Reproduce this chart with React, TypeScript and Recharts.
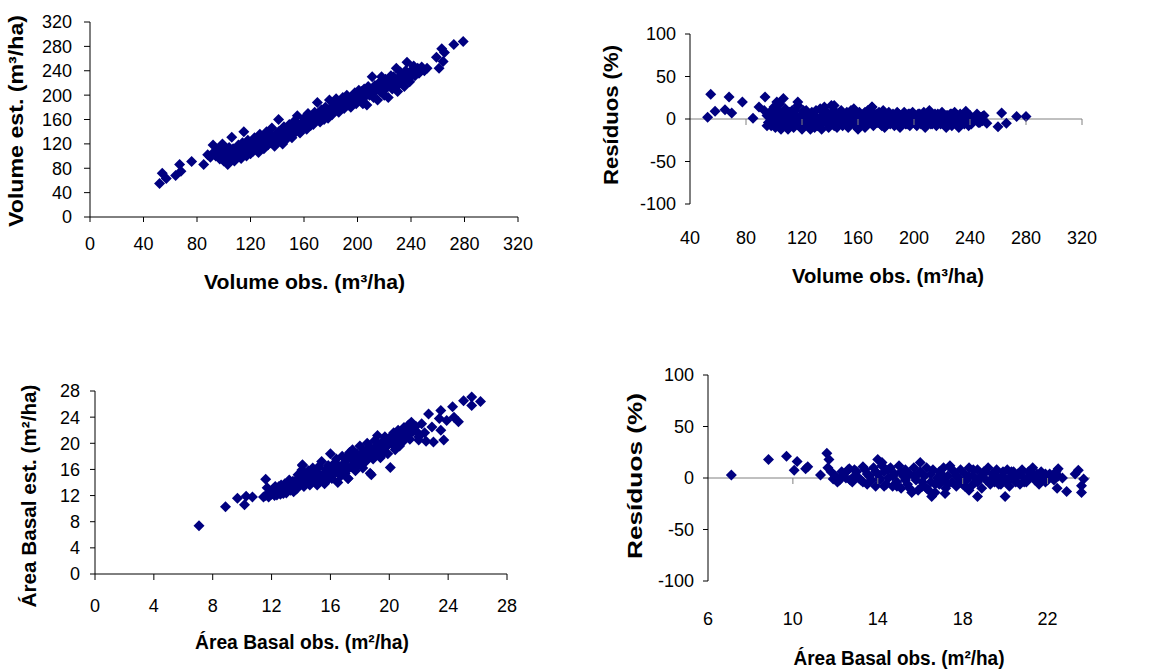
import { ScatterChart, Scatter, XAxis, YAxis, ReferenceLine } from "recharts";

const NAVY = "#000080";
const FONT = '"Liberation Sans", Arial, sans-serif';

// volume observed vs estimated (m³/ha)
const volumeFit: [number, number][] = [
  [52, 55], [54, 72], [57, 63], [64, 68], [67, 86], [68, 75], [76, 91], [85, 86], [88, 102], [92, 118], [95, 110],
  [90, 98], [92, 105], [94, 100], [96, 112], [97, 95], [98, 104], [99, 120], [100, 92], [101, 108], [102, 100],
  [103, 86], [104, 114], [105, 96], [106, 131], [107, 104], [108, 92], [109, 110], [110, 100], [111, 118], [112, 106],
  [113, 96], [114, 122], [115, 140], [116, 108], [117, 100], [118, 126], [119, 112], [120, 104], [121, 118], [122, 108],
  [123, 130], [124, 114], [125, 120], [126, 106], [127, 136], [128, 118], [129, 126], [130, 112], [131, 124], [132, 140],
  [133, 118], [134, 130], [135, 122], [136, 146], [137, 128], [138, 116], [139, 136], [140, 124], [141, 160], [142, 132],
  [143, 140], [144, 120], [145, 148], [146, 134], [147, 128], [148, 142], [149, 152], [150, 136], [151, 130], [152, 146],
  [153, 158], [154, 140], [155, 166], [156, 148], [157, 138], [158, 154], [159, 146], [160, 162], [161, 150], [162, 144],
  [163, 170], [164, 156], [165, 150], [166, 160], [167, 152], [168, 172], [169, 158], [170, 188], [171, 164], [172, 156],
  [173, 176], [174, 166], [175, 160], [176, 180], [177, 170], [178, 162], [179, 192], [180, 176], [181, 168], [182, 184],
  [183, 174], [184, 194], [185, 180], [186, 172], [187, 190], [188, 182], [189, 196], [190, 178], [191, 186], [192, 200],
  [193, 184], [194, 192], [195, 180], [196, 198], [197, 190], [198, 204], [199, 186], [200, 196], [201, 208], [202, 192],
  [203, 200], [204, 186], [205, 210], [206, 198], [207, 184], [208, 214], [209, 200], [210, 206], [211, 230], [212, 196],
  [213, 216], [214, 208], [215, 192], [216, 220], [217, 206], [218, 230], [219, 212], [220, 200], [221, 226], [222, 214],
  [223, 196], [224, 220], [225, 232], [226, 210], [227, 224], [228, 216], [229, 244], [230, 206], [231, 228], [232, 238],
  [233, 220], [234, 230], [235, 214], [236, 240], [237, 254], [238, 226], [239, 222], [240, 236], [242, 248], [244, 240],
  [246, 236], [248, 246], [250, 240], [252, 244],
  [95, 104], [97, 100], [99, 108], [101, 96], [103, 110], [105, 104], [107, 112], [109, 98], [111, 110], [113, 104],
  [115, 114], [117, 110], [119, 120], [121, 110], [123, 122], [125, 114], [127, 126], [129, 118], [131, 130], [133, 124],
  [135, 134], [137, 122], [139, 130], [141, 140], [143, 130], [145, 138], [147, 144], [149, 136], [151, 146], [153, 140],
  [155, 152], [157, 146], [159, 156], [161, 158], [163, 152], [165, 162], [167, 164], [169, 168], [171, 170], [173, 166],
  [175, 172], [177, 176], [179, 170], [181, 180], [183, 182], [185, 186], [187, 178], [189, 186], [191, 192], [193, 194],
  [195, 190], [197, 196], [199, 200], [201, 196], [203, 206], [205, 200], [207, 204], [209, 208], [211, 202], [213, 210],
  [215, 214], [217, 218], [219, 222], [221, 210], [223, 220], [225, 218], [227, 230], [229, 222], [231, 218], [233, 234],
  [235, 226], [237, 236], [239, 230], [241, 242], [243, 232], [245, 244], [247, 240],
  [259, 262], [261, 244], [263, 276], [264, 255], [265, 270], [272, 283], [279, 288],
];

// volume residuals (%)
const volumeResid: [number, number][] = [
  [52.6, 2], [54.8, 29], [57.9, 9], [65, 11], [67.9, 26], [69.8, 7], [77.4, 20], [85, 1], [89.3, 14], [93.6, 26],
  [102, 20], [106.7, 24], [117, 20], [143, 16], [170, 14],
  [93, 10], [95, 4], [96, -4], [97, 8], [98, -8], [99, 0], [100, 14], [101, -10], [102, 4], [103, -4],
  [104, 18], [105, -12], [106, 6], [107, -6], [108, 12], [109, 0], [110, -12], [111, 8], [112, -4], [113, 2],
  [114, -10], [115, 10], [116, -2], [117, 16], [118, -8], [119, 4], [120, -12], [121, 6], [122, -4], [123, 10],
  [124, -8], [125, 2], [126, -12], [127, 8], [128, -2], [129, -10], [130, 10], [131, 0], [132, -6], [133, 12],
  [134, -12], [135, 4], [136, 14], [137, -4], [138, 8], [139, -10], [140, 2], [141, 16], [142, -6], [143, 10],
  [144, -2], [145, -10], [146, 6], [147, -4], [148, 10], [149, -8], [150, 2], [151, -6], [152, 8], [153, -10],
  [154, 0], [155, 6], [156, -4], [157, 12], [158, -8], [159, 2], [160, -12], [161, 8], [162, -2], [163, -6],
  [164, 6], [165, -10], [166, 2], [167, 10], [168, -4], [169, 4], [170, 14], [171, -8], [172, 0], [173, 6],
  [174, -4], [175, 8], [176, -6], [177, 2], [178, 10], [179, -10], [180, 4], [181, -2], [182, 8], [183, -6],
  [184, 0], [185, 6], [186, -8], [187, 2], [188, 8], [189, -4], [190, -10], [191, 4], [192, -2], [193, 8],
  [194, -6], [195, 0], [196, 6], [197, -8], [198, 2], [199, 8], [200, -4], [201, 4], [202, -8], [203, 0],
  [204, 6], [205, -6], [206, 2], [207, 8], [208, -10], [209, 0], [210, 4], [211, 10], [212, -6], [213, 2],
  [214, -2], [215, 6], [216, -8], [217, 0], [218, 4], [219, -4], [220, 8], [221, -6], [222, 2], [223, -10],
  [224, 4], [225, -2], [226, 6], [227, -8], [228, 0], [229, 8], [230, -4], [231, 2], [232, -10], [233, 6],
  [234, -2], [235, 4], [236, -6], [237, 9], [238, 0], [239, -8], [240, 4], [242, -2], [244, 2], [246, -4],
  [248, 2], [250, 4],
  [95, -8], [97, 2], [99, 6], [101, -2], [103, 10], [105, 0], [107, -8], [109, 6], [111, -2], [113, 10],
  [115, -6], [117, 2], [119, -4], [121, 10], [123, -2], [125, 6], [127, -6], [129, 4], [131, -8], [133, 2],
  [135, -4], [137, 8], [139, -2], [141, 4], [143, -8], [145, 2], [147, 8], [149, -2], [151, 4], [153, -6],
  [155, 10], [157, -2], [159, 6], [161, -4], [163, 2], [165, 8], [167, -6], [169, 0], [171, 6], [173, -4],
  [175, 2], [177, -8], [179, 6], [181, -6], [183, 2], [185, -2], [187, -6], [189, 6], [191, -4], [193, 2],
  [195, -6], [197, 6], [199, -2], [201, -6], [203, 6], [205, 2], [207, -4], [209, 6], [211, -2], [213, -6],
  [215, 2], [217, 6], [219, -6], [221, 2], [223, 4], [225, -6], [227, 6], [229, -2], [231, -6], [233, 2],
  [235, -4], [237, 2], [239, 4], [241, -6], [243, 0], [245, 6], [247, -4], [249, -2],
  [249, 3], [252, -5], [262.6, 7], [260, -9], [266, -5], [273.3, 3], [280, 3],
];

// basal area observed vs estimated (m²/ha)
const basalFit: [number, number][] = [
  [7.07, 7.4], [8.87, 10.3], [9.68, 11.6], [10.16, 10.6], [10.27, 11.9], [10.7, 11.8], [11.45, 11.8], [11.6, 14.5],
  [12.36, 12.1], [12.8, 12.3], [14.06, 15.9], [14.1, 16.7], [17.2, 14.6], [18.78, 15.2], [20.07, 16.3], [19.4, 18],
  [11.6, 12.0], [11.7, 13.2], [11.8, 11.8], [11.9, 12.6], [12.0, 12.2], [12.1, 13.0], [12.2, 12.0], [12.3, 12.8],
  [12.4, 12.4], [12.5, 13.4], [12.6, 12.2], [12.7, 13.0], [12.8, 12.6], [12.9, 13.8], [13.0, 12.4], [13.1, 13.2],
  [13.2, 14.4], [13.3, 12.8], [13.4, 13.6], [13.5, 12.6], [13.6, 14.2], [13.7, 13.0], [13.8, 15.2], [13.9, 13.6],
  [14.0, 14.4], [14.1, 16.6], [14.2, 13.4], [14.3, 15.0], [14.4, 14.0], [14.5, 15.8], [14.6, 13.6], [14.7, 14.8],
  [14.8, 16.2], [14.9, 14.2], [15.0, 15.4], [15.1, 13.6], [15.2, 16.4], [15.3, 14.6], [15.4, 17.2], [15.5, 15.0],
  [15.6, 13.8], [15.7, 16.0], [15.8, 14.4], [15.9, 15.6], [16.0, 18.4], [16.1, 14.6], [16.2, 16.8], [16.3, 15.4],
  [16.4, 17.6], [16.5, 14.0], [16.6, 16.2], [16.7, 15.0], [16.8, 18.0], [16.9, 16.6], [17.0, 15.4], [17.1, 17.4],
  [17.2, 14.6], [17.3, 18.6], [17.4, 16.4], [17.5, 19.0], [17.6, 17.2], [17.7, 15.8], [17.8, 18.4], [17.9, 16.8],
  [18.0, 19.6], [18.1, 17.6], [18.2, 16.2], [18.3, 18.8], [18.4, 17.2], [18.5, 20.0], [18.6, 18.0], [18.7, 15.4],
  [18.8, 19.2], [18.9, 17.6], [19.0, 20.4], [19.1, 18.6], [19.2, 21.2], [19.3, 19.0], [19.4, 17.8], [19.5, 20.2],
  [19.6, 18.8], [19.7, 21.0], [19.8, 19.6], [19.9, 18.4], [20.0, 20.8], [20.2, 19.8], [20.3, 21.6], [20.4, 19.0],
  [20.5, 20.6], [20.6, 22.0], [20.7, 19.6], [20.8, 21.2], [20.9, 20.2], [21.0, 22.4], [21.1, 20.8], [21.2, 21.6],
  [21.3, 22.8], [21.4, 20.6], [21.5, 23.2], [21.6, 21.8], [21.8, 22.6], [22.0, 21.0], [22.2, 23.0], [22.4, 21.6],
  [12.05, 12.6], [12.25, 13.4], [12.45, 12.8], [12.65, 13.6], [12.85, 13.0], [13.05, 13.8], [13.25, 13.2], [13.45, 14.2],
  [13.65, 13.6], [13.85, 14.4], [14.05, 13.8], [14.25, 14.8], [14.45, 15.2], [14.65, 14.4], [14.85, 15.0], [15.05, 16.0],
  [15.25, 15.2], [15.45, 14.8], [15.65, 15.6], [15.85, 16.6], [16.05, 15.6], [16.25, 16.0], [16.45, 16.8], [16.65, 15.6],
  [16.85, 16.8], [17.05, 17.8], [17.25, 16.2], [17.45, 17.6], [17.65, 18.2], [17.85, 17.4], [18.05, 18.2], [18.25, 17.8],
  [18.45, 18.8], [18.65, 19.4], [18.85, 18.4], [19.05, 19.2], [19.25, 19.8], [19.45, 19.4], [19.65, 20.0], [19.85, 19.6],
  [20.05, 20.2], [20.25, 20.4], [20.45, 21.0], [20.65, 20.8], [20.85, 21.6], [21.05, 21.2], [21.25, 22.2], [21.45, 21.6],
  [21.65, 22.4], [21.85, 21.8],
  [22.67, 24.5], [22.9, 22.5], [22.0, 20.5], [22.5, 20.3], [23.0, 20.2], [23.5, 25], [23.5, 22], [23.7, 20.5],
  [23.4, 23.8], [23.9, 23.5], [24.3, 25.6], [24.4, 24], [24.7, 23.3], [25.05, 26.5], [25.6, 27.1], [25.6, 25.8],
  [26.2, 26.4],
];

// basal area residuals (%)
const basalResid: [number, number][] = [
  [7.1, 3], [8.85, 18], [9.7, 21], [10.2, 16], [10.06, 7.5], [10.6, 9], [10.7, 11], [11.3, 3], [11.6, 24],
  [11.7, 18], [11.65, 10], [11.9, -1], [12.66, 9], [13.3, 11], [14.0, 18], [14.2, 15], [16.0, 15],
  [16.54, -18], [17.17, -15], [18.3, -12], [18.7, -18], [20.0, -18],
  [11.8, 6], [12.0, 2], [12.2, -2], [12.4, 4], [12.6, 8], [12.8, -4], [12.9, 2], [13.0, 6], [13.2, -2],
  [13.4, 8], [13.5, -6], [13.6, 2], [13.8, 10], [13.9, -8], [14.0, 4], [14.1, -2], [14.2, 12], [14.3, 6],
  [14.4, -6], [14.5, 0], [14.6, 10], [14.7, -8], [14.8, 4], [14.9, -4], [15.0, 12], [15.1, -10], [15.2, 2],
  [15.3, 8], [15.4, -6], [15.5, 4], [15.6, -14], [15.7, 10], [15.8, -2], [15.9, -12], [16.0, 6], [16.1, -8],
  [16.2, 2], [16.3, 10], [16.4, -12], [16.5, -4], [16.6, 8], [16.7, -14], [16.8, 0], [16.9, -6], [17.0, 4],
  [17.1, 10], [17.2, -10], [17.3, 2], [17.4, 12], [17.5, -4], [17.6, 6], [17.7, -8], [17.8, 0], [17.9, 8],
  [18.0, -6], [18.1, 4], [18.2, -2], [18.3, 10], [18.4, -8], [18.5, 2], [18.6, -4], [18.7, 8], [18.8, 0],
  [18.9, -10], [19.0, 6], [19.1, -2], [19.2, 10], [19.3, -6], [19.4, 4], [19.5, -4], [19.6, 8], [19.7, 0],
  [19.8, -6], [19.9, 6], [20.0, -2], [20.1, 8], [20.2, -8], [20.3, 2], [20.4, 6], [20.5, -4], [20.6, 4],
  [20.7, -6], [20.8, 8], [20.9, 0], [21.0, -4], [21.1, 6], [21.2, 2], [21.3, 10], [21.4, -2], [21.5, 4],
  [21.6, -6], [21.7, 6], [21.8, 0], [21.9, 4], [22.0, -2], [22.2, 2], [22.4, 6],
  [12.1, -4], [12.3, 6], [12.5, 0], [12.7, -2], [12.9, 8], [13.1, 0], [13.3, -4], [13.5, 4], [13.7, -2], [13.9, 6],
  [14.1, 0], [14.3, -8], [14.5, 8], [14.7, 2], [14.9, -8], [15.1, 6], [15.3, -2], [15.5, -10], [15.7, 2], [15.9, 4],
  [16.1, -4], [16.3, -10], [16.5, 4], [16.7, -6], [16.9, 6], [17.1, -2], [17.3, -6], [17.5, 8], [17.7, 2], [17.9, -4],
  [18.1, -8], [18.3, 2], [18.5, 8], [18.7, -4], [18.9, 2], [19.1, 6], [19.3, -2], [19.5, 4], [19.7, -6], [19.9, 2],
  [20.1, -4], [20.3, 6], [20.5, 0], [20.7, 4], [20.9, -4], [21.1, 0], [21.3, 4], [21.5, -2], [21.7, 2], [21.9, -4],
  [22.1, 4], [22.3, -2], [22.5, 2],
  [22.5, 9], [22.45, -10], [22.7, 0], [22.9, -13], [23.3, 4], [23.45, 7.5], [23.7, -1], [23.6, -7.5], [23.6, -14],
];

const volumeTicks = [0, 40, 80, 120, 160, 200, 240, 280, 320];
const volumeResidXTicks = [40, 80, 120, 160, 200, 240, 280, 320];
const residTicks = [-100, -50, 0, 50, 100];
const basalTicks = [0, 4, 8, 12, 16, 20, 24, 28];
const basalResidXTicks = [6, 10, 14, 18, 22];

const toRows = (pts: [number, number][]) => pts.map(([x, y]) => ({ x, y }));

const Diamond = (props: any) => {
  const { cx, cy } = props;
  const r = 5.5;
  return (
    <polygon
      points={`${cx},${cy - r} ${cx + r},${cy} ${cx},${cy + r} ${cx - r},${cy}`}
      fill={NAVY}
    />
  );
};

// x labels sit at the bottom, tick marks sit on the zero line
const residTick = (zeroY: number, skip: number, fontSize: number) => (p: any) => (
  <g>
    {p.payload.value !== skip && (
      <line x1={p.x} x2={p.x} y1={zeroY} y2={zeroY + 6} stroke="#808080" />
    )}
    <text x={p.x} y={p.y} dy="0.71em" textAnchor="middle" fontSize={fontSize} fill="#000" fontFamily={FONT}>
      {p.payload.value}
    </text>
  </g>
);

const box = (left: number, top: number): React.CSSProperties => ({ position: "absolute", left, top });

const XTitle = ({ x, y, size, len, children }: any) => (
  <text x={x} y={y} textAnchor="middle" fontSize={size} fontWeight="bold" textLength={len} lengthAdjust="spacingAndGlyphs">
    {children}
  </text>
);

const YTitle = ({ x, y, size, len, children }: any) => (
  <text transform={`translate(${x},${y}) rotate(-90)`} textAnchor="middle" fontSize={size} fontWeight="bold" textLength={len} lengthAdjust="spacingAndGlyphs">
    {children}
  </text>
);

export default function App() {
  return (
    <div style={{ position: "absolute", left: 0, top: 0, width: 1167, height: 671, background: "#fff", fontFamily: FONT }}>
      {/* top left: volume fit */}
      <div style={box(0, 0)}>
        <ScatterChart width={580} height={300} margin={{ top: 22, right: 62, bottom: 0, left: 0 }}>
          <XAxis type="number" dataKey="x" domain={[0, 320]} ticks={volumeTicks} height={83} stroke="#000"
            tickSize={5} tickMargin={15} tick={{ fontSize: 18, fill: "#000" }} interval={0} />
          <YAxis type="number" dataKey="y" domain={[0, 320]} ticks={volumeTicks} width={90} stroke="#000"
            tickSize={6} tickMargin={12} tick={{ fontSize: 18, fill: "#000" }} interval={0} />
          <Scatter data={toRows(volumeFit)} shape={Diamond} isAnimationActive={false} />
        </ScatterChart>
      </div>

      {/* top right: volume residuals */}
      <div style={box(580, 0)}>
        <ScatterChart width={587} height={300} margin={{ top: 34, right: 85, bottom: 0, left: 0 }}>
          <XAxis type="number" dataKey="x" domain={[40, 320]} ticks={volumeResidXTicks} height={96}
            axisLine={false} tickLine={false} tickSize={0} tickMargin={27} interval={0}
            tick={residTick(119, 40, 18)} />
          <YAxis type="number" dataKey="y" domain={[-100, 100]} ticks={residTicks} width={110} stroke="#000"
            tickSize={5} tickMargin={9} tick={{ fontSize: 18, fill: "#000" }} interval={0} />
          <ReferenceLine y={0} stroke="#808080" />
          <Scatter data={toRows(volumeResid)} shape={Diamond} isAnimationActive={false} />
        </ScatterChart>
      </div>

      {/* bottom left: basal area fit */}
      <div style={box(0, 360)}>
        <ScatterChart width={580} height={311} margin={{ top: 31, right: 73, bottom: 0, left: 0 }}>
          <XAxis type="number" dataKey="x" domain={[0, 28]} ticks={basalTicks} height={97} stroke="#000"
            tickSize={6} tickMargin={19} tick={{ fontSize: 18, fill: "#000" }} interval={0} />
          <YAxis type="number" dataKey="y" domain={[0, 28]} ticks={basalTicks} width={95} stroke="#000"
            tickSize={5} tickMargin={10} tick={{ fontSize: 18, fill: "#000" }} interval={0} />
          <Scatter data={toRows(basalFit)} shape={Diamond} isAnimationActive={false} />
        </ScatterChart>
      </div>

      {/* bottom right: basal area residuals */}
      <div style={box(580, 360)}>
        <ScatterChart width={587} height={311} margin={{ top: 15, right: 77, bottom: 0, left: 0 }}>
          <XAxis type="number" dataKey="x" domain={[6, 24]} ticks={basalResidXTicks} height={90}
            axisLine={false} tickLine={false} tickSize={0} tickMargin={31} interval={0}
            tick={residTick(118, 6, 18)} />
          <YAxis type="number" dataKey="y" domain={[-100, 100]} ticks={residTicks} width={128} stroke="#000"
            tickSize={5} tickMargin={9} tick={{ fontSize: 18, fill: "#000" }} interval={0} />
          <ReferenceLine y={0} stroke="#808080" />
          <Scatter data={toRows(basalResid)} shape={Diamond} isAnimationActive={false} />
        </ScatterChart>
      </div>

      {/* axis titles */}
      <svg width={1167} height={671} style={{ position: "absolute", left: 0, top: 0, pointerEvents: "none" }} fontFamily={FONT} fill="#000">
        <XTitle x={304.5} y={289} size={21} len={201}>Volume obs. (m³/ha)</XTitle>
        <YTitle x={23} y={121} size={21} len={212}>Volume est. (m³/ha)</YTitle>
        <XTitle x={888} y={283} size={21} len={192}>Volume obs. (m³/ha)</XTitle>
        <YTitle x={618} y={115} size={20} len={140}>Resíduos (%)</YTitle>
        <XTitle x={302} y={649} size={20} len={214}>Área Basal obs. (m²/ha)</XTitle>
        <YTitle x={36} y={496} size={20} len={223}>Área Basal est. (m²/ha)</YTitle>
        <XTitle x={899} y={665} size={20} len={211}>Área Basal obs. (m²/ha)</XTitle>
        <YTitle x={642} y={476} size={21} len={166}>Resíduos (%)</YTitle>
      </svg>
    </div>
  );
}
